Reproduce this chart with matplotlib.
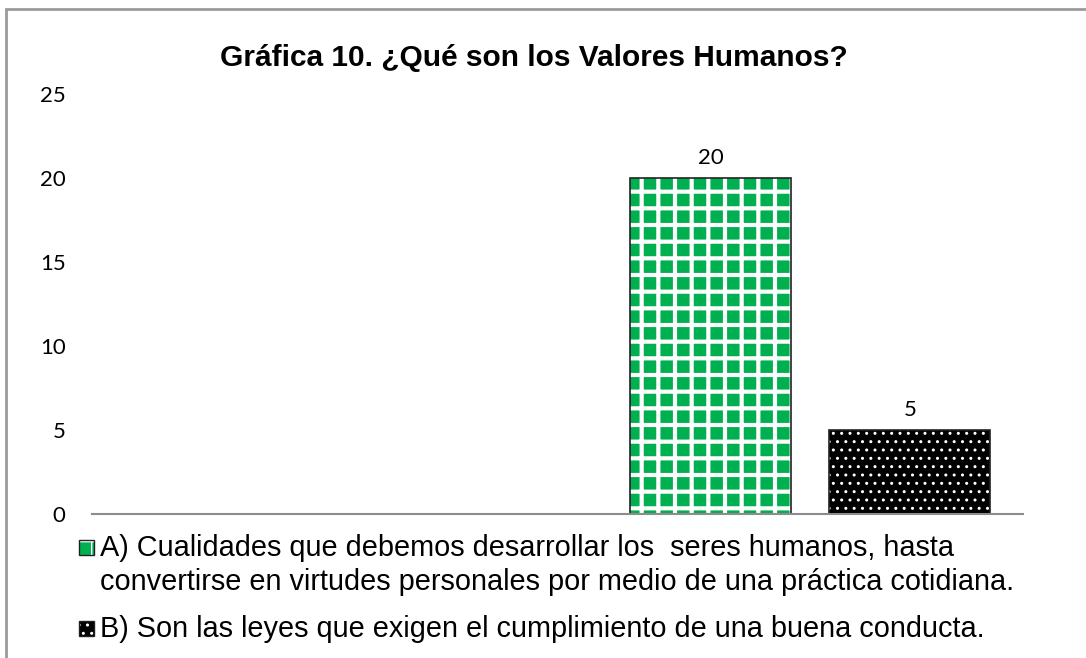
import matplotlib
matplotlib.use("Agg")
import matplotlib.pyplot as plt
from matplotlib.patches import Rectangle

# data
legend_lines = [
    ["A) Cualidades que debemos desarrollar los  seres humanos, hasta",
     "convertirse en virtudes personales por medio de una práctica cotidiana."],
    ["B) Son las leyes que exigen el cumplimiento de una buena conducta."],
]
values = [20, 5]
title = "Gráfica 10. ¿Qué son los Valores Humanos?"
yticks = [0, 5, 10, 15, 20, 25]

# layout of the Excel-style chart (one empty slot then both series)
xpos = [1.329, 1.757]
width = 0.346
fills = ["#00B050", "#000000"]
hatches = ["+", ".."]
hatch_lw = [3.0, 1.0]

W, H = 1086, 658
fig = plt.figure(figsize=(W / 100, H / 100), dpi=100)
ax = fig.add_axes([92 / W, 1 - 514 / H, 931 / W, 420 / H])

for x, v, fc, h, hl in zip(xpos, values, fills, hatches, hatch_lw):
    plt.rcParams["hatch.linewidth"] = hl
    ax.bar(x, v, width=width, color=fc, edgecolor="white", hatch=h, linewidth=0)
    ax.bar(x, v, width=width, fill=False, edgecolor="#222222", linewidth=1.2)
    ax.text(x, v + 0.6, str(v), ha="center", va="bottom",
            fontsize=16, family="Lato")
plt.rcParams["hatch.linewidth"] = 1.0

ax.set_xlim(0, 2)
ax.set_ylim(0, 25)
ax.set_yticks(yticks)
ax.set_yticklabels([str(t) for t in yticks], family="Lato", fontsize=16)
ax.tick_params(axis="y", length=0, pad=19)
ax.set_xticks([])
for s in ["left", "right", "top"]:
    ax.spines[s].set_visible(False)
ax.spines["bottom"].set_color("#8c8c8c")
ax.spines["bottom"].set_linewidth(1.5)

fig.text(534 / W, 1 - 58 / H, title, ha="center", va="center",
         fontsize=21.5, fontweight="bold", family="Liberation Sans")

# legend drawn by hand so the marker sits on the first line of a wrapped label
baselines = [[556, 590], [637]]
for lines, base, fc, h in zip(legend_lines, baselines, fills, hatches):
    for line, b in zip(lines, base):
        fig.text(100 / W, 1 - b / H, line, ha="left", va="baseline",
                 fontsize=20.8, family="Liberation Sans")
    top = base[0] - 16
    fig.patches.append(Rectangle((79 / W, 1 - (top + 15) / H), 15 / W, 15 / H,
                                 transform=fig.transFigure, facecolor=fc,
                                 edgecolor="white", hatch=h, linewidth=0))
    fig.patches.append(Rectangle((79 / W, 1 - (top + 15) / H), 15 / W, 15 / H,
                                 transform=fig.transFigure, fill=False,
                                 edgecolor="#222222", linewidth=1))

# gray chart-area border (cropped on right and bottom)
fig.patches.append(Rectangle((6 / W, -0.1), 1.2, 1 - 9 / H + 0.1,
                             transform=fig.transFigure, fill=False,
                             edgecolor="#9b9b9b", linewidth=2))

fig.savefig("out.png", dpi=100)
